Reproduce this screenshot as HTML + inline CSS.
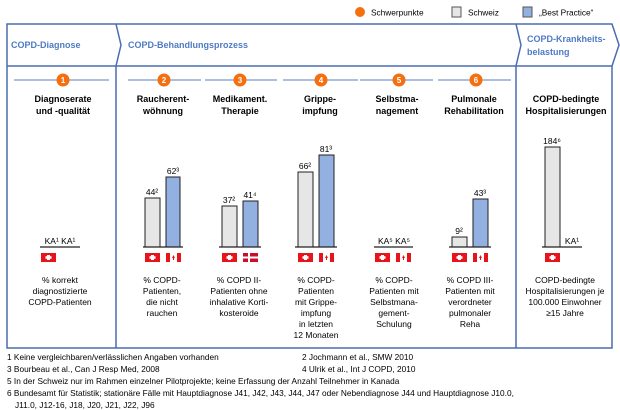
<!DOCTYPE html>
<html><head><meta charset="utf-8"><style>
body{margin:0;background:#fff}
svg{display:block;font-family:"Liberation Sans",sans-serif}
.t{font-size:9px;font-weight:bold;fill:#000;text-anchor:middle}
.l{font-size:8.5px;fill:#000;text-anchor:middle}
.h{font-size:9px;font-weight:bold;fill:#4f7ac4}
.f{font-size:8.3px;fill:#000}
.n{font-size:8.5px;fill:#000;text-anchor:middle}
.c{font-size:8px;font-weight:bold;fill:#fff;text-anchor:middle}
</style></head><body>
<svg width="620" height="410" viewBox="0 0 620 410">
<defs>
<g id="ch"><rect width="15" height="9" fill="#e8141c"/><rect x="6" y="2" width="3" height="5" fill="#fff"/><rect x="4.5" y="3.2" width="6" height="2.6" fill="#fff"/></g>
<g id="ca"><rect width="15" height="9" fill="#fff"/><rect width="4" height="9" fill="#e8141c"/><rect x="11" width="4" height="9" fill="#e8141c"/><path d="M7.5 2 L9 5 L8 5 L8 7 L7 7 L7 5 L6 5Z" fill="#e8141c"/></g>
<g id="dk"><rect width="15" height="9" fill="#c8102e"/><rect x="5" width="2" height="9" fill="#fff"/><rect y="3.5" width="15" height="2" fill="#fff"/></g>
</defs>
<!-- legend -->
<circle cx="360" cy="12" r="5" fill="#f36f0f"/>
<text x="371" y="15.5" class="f">Schwerpunkte</text>
<rect x="452" y="7" width="9" height="10" fill="#e6e6e6" stroke="#555"/>
<text x="468" y="15.5" class="f">Schweiz</text>
<rect x="523" y="7" width="9" height="10" fill="#92b0e0" stroke="#555"/>
<text x="539" y="15.5" class="f">„Best Practice“</text>
<!-- frame -->
<path d="M7 24 H612 L619 45 L612 66 V348 H7 Z" fill="none" stroke="#4a6db0" stroke-width="1.5"/>
<line x1="7" y1="66" x2="612" y2="66" stroke="#4a6db0" stroke-width="1.5"/>
<path d="M116 24 L121 45 L116 66 V348" fill="none" stroke="#4a6db0" stroke-width="1.5"/>
<path d="M516 24 L521 45 L516 66 V348" fill="none" stroke="#4a6db0" stroke-width="1.5"/>
<text x="11" y="48" class="h">COPD-Diagnose</text>
<text x="128" y="48" class="h">COPD-Behandlungsprozess</text>
<text x="527" y="42" class="h">COPD-Krankheits-</text>
<text x="527" y="55" class="h">belastung</text>
<!-- number lines -->
<g stroke="#5b7fc0" stroke-width="1">
<line x1="14" y1="80" x2="109" y2="80"/>
<line x1="128" y1="80" x2="201" y2="80"/>
<line x1="205" y1="80" x2="277" y2="80"/>
<line x1="283" y1="80" x2="358" y2="80"/>
<line x1="360" y1="80" x2="433" y2="80"/>
<line x1="438" y1="80" x2="511" y2="80"/>
</g>
<g>
<circle cx="63" cy="80" r="6.5" fill="#f36f0f"/><text x="63" y="83" class="c">1</text>
<circle cx="164" cy="80" r="6.5" fill="#f36f0f"/><text x="164" y="83" class="c">2</text>
<circle cx="240" cy="80" r="6.5" fill="#f36f0f"/><text x="240" y="83" class="c">3</text>
<circle cx="321" cy="80" r="6.5" fill="#f36f0f"/><text x="321" y="83" class="c">4</text>
<circle cx="399" cy="80" r="6.5" fill="#f36f0f"/><text x="399" y="83" class="c">5</text>
<circle cx="476" cy="80" r="6.5" fill="#f36f0f"/><text x="476" y="83" class="c">6</text>
</g>
<!-- titles -->
<text x="63" y="102" class="t">Diagnoserate</text><text x="63" y="114" class="t">und -qualität</text>
<text x="163" y="102" class="t">Raucherent-</text><text x="163" y="114" class="t">wöhnung</text>
<text x="240" y="102" class="t">Medikament.</text><text x="240" y="114" class="t">Therapie</text>
<text x="320" y="102" class="t">Grippe-</text><text x="320" y="114" class="t">impfung</text>
<text x="397" y="102" class="t">Selbstma-</text><text x="397" y="114" class="t">nagement</text>
<text x="474" y="102" class="t">Pulmonale</text><text x="474" y="114" class="t">Rehabilitation</text>
<text x="566" y="102" class="t">COPD-bedingte</text><text x="566" y="114" class="t">Hospitalisierungen</text>
<!-- bars -->
<g stroke="#222" stroke-width="1">
<rect x="145" y="198" width="15" height="49" fill="#e6e6e6"/>
<rect x="166" y="177" width="14" height="70" fill="#92b0e0"/>
<rect x="222" y="206" width="15" height="41" fill="#e6e6e6"/>
<rect x="243" y="201" width="15" height="46" fill="#92b0e0"/>
<rect x="298" y="172" width="15" height="75" fill="#e6e6e6"/>
<rect x="319" y="155" width="15" height="92" fill="#92b0e0"/>
<rect x="452" y="237" width="15" height="10" fill="#e6e6e6"/>
<rect x="473" y="199" width="15" height="48" fill="#92b0e0"/>
<rect x="545" y="147" width="15" height="100" fill="#e6e6e6"/>
</g>
<g stroke="#222" stroke-width="1.2">
<line x1="40" y1="247" x2="80" y2="247"/>
<line x1="143" y1="247" x2="183" y2="247"/>
<line x1="219" y1="247" x2="261" y2="247"/>
<line x1="295" y1="247" x2="337" y2="247"/>
<line x1="374" y1="247" x2="413" y2="247"/>
<line x1="449" y1="247" x2="491" y2="247"/>
<line x1="542" y1="247" x2="582" y2="247"/>
</g>
<!-- values -->
<g class="n">
<text x="60" y="244" class="n">KA¹ KA¹</text>
<text x="152" y="195" class="n">44²</text><text x="173" y="174" class="n">62³</text>
<text x="229" y="203" class="n">37²</text><text x="250" y="198" class="n">41⁴</text>
<text x="305" y="169" class="n">66²</text><text x="326" y="152" class="n">81³</text>
<text x="394" y="244" class="n">KA⁵ KA⁵</text>
<text x="459" y="234" class="n">9²</text><text x="480" y="196" class="n">43³</text>
<text x="552" y="144" class="n">184⁶</text><text x="572" y="244" class="n">KA¹</text>
</g>
<!-- flags -->
<use href="#ch" x="41" y="253"/>
<use href="#ch" x="145" y="253"/><use href="#ca" x="166" y="253"/>
<use href="#ch" x="222" y="253"/><use href="#dk" x="243" y="253"/>
<use href="#ch" x="298" y="253"/><use href="#ca" x="319" y="253"/>
<use href="#ch" x="375" y="253"/><use href="#ca" x="396" y="253"/>
<use href="#ch" x="452" y="253"/><use href="#ca" x="473" y="253"/>
<use href="#ch" x="545" y="253"/>
<!-- labels -->
<g class="l">
<text x="60" y="283">% korrekt</text><text x="60" y="294">diagnostizierte</text><text x="60" y="305">COPD-Patienten</text>
<text x="162" y="283">% COPD-</text><text x="162" y="294">Patienten,</text><text x="162" y="305">die nicht</text><text x="162" y="316">rauchen</text>
<text x="239" y="283">% COPD  II-</text><text x="239" y="294">Patienten ohne</text><text x="239" y="305">inhalative Korti-</text><text x="239" y="316">kosteroide</text>
<text x="316" y="283">% COPD-</text><text x="316" y="294">Patienten</text><text x="316" y="305">mit Grippe-</text><text x="316" y="316">impfung</text><text x="316" y="327">in letzten</text><text x="316" y="338">12 Monaten</text>
<text x="394" y="283">% COPD-</text><text x="394" y="294">Patienten mit</text><text x="394" y="305">Selbstmana-</text><text x="394" y="316">gement-</text><text x="394" y="327">Schulung</text>
<text x="470" y="283">% COPD  III-</text><text x="470" y="294">Patienten mit</text><text x="470" y="305">verordneter</text><text x="470" y="316">pulmonaler</text><text x="470" y="327">Reha</text>
<text x="565" y="283">COPD-bedingte</text><text x="565" y="294">Hospitalisierungen je</text><text x="565" y="305">100.000 Einwohner</text><text x="565" y="316">≥15 Jahre</text>
</g>
<!-- footnotes -->
<text x="7" y="360" class="f">1 Keine vergleichbaren/verlässlichen Angaben vorhanden</text>
<text x="302" y="360" class="f">2 Jochmann et al., SMW 2010</text>
<text x="7" y="372" class="f">3 Bourbeau et al., Can J Resp Med, 2008</text>
<text x="302" y="372" class="f">4 Ulrik et al., Int J COPD,  2010</text>
<text x="7" y="384" class="f">5 In der Schweiz nur im Rahmen einzelner Pilotprojekte;  keine Erfassung der Anzahl Teilnehmer in Kanada</text>
<text x="7" y="396" class="f">6 Bundesamt für Statistik; stationäre Fälle mit Hauptdiagnose J41, J42, J43, J44, J47 oder Nebendiagnose J44 und Hauptdiagnose J10.0,</text>
<text x="15" y="408" class="f">J11.0, J12-16, J18, J20, J21, J22, J96</text>
</svg>
</body></html>
